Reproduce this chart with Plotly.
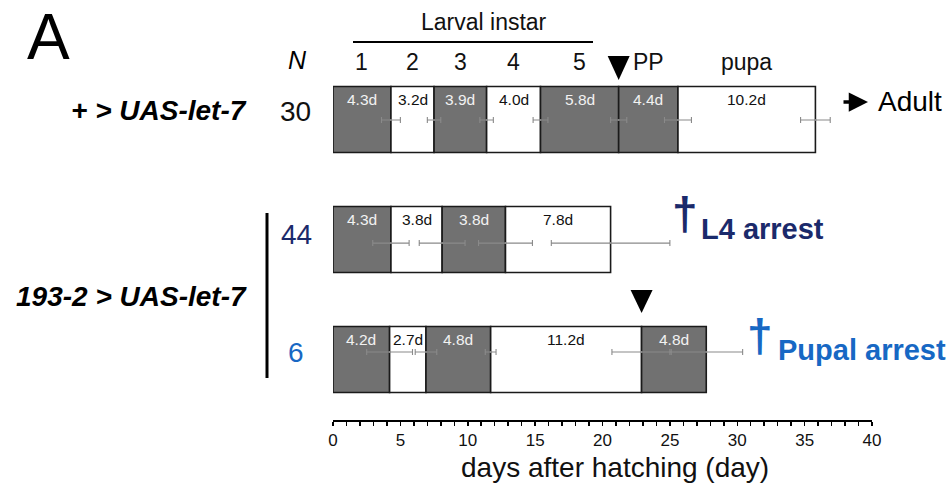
import numpy as np
import plotly.graph_objects as go

# ---------------- data ----------------
genotypes = ["+ > UAS-let-7", "193-2 > UAS-let-7"]
n_values = ["30", "44", "6"]
stage_names = ["1", "2", "3", "4", "5", "PP", "pupa"]
outcomes = ["Adult", "L4 arrest", "Pupal arrest"]

# row 0: + > UAS-let-7
wt_durations = [4.3, 3.2, 3.9, 4.0, 5.8, 4.4, 10.2]
wt_sd = [0.7, 0.5, 0.5, 0.55, 0.6, 1.0, 1.1]
wt_labels = ["4.3d", "3.2d", "3.9d", "4.0d", "5.8d", "4.4d", "10.2d"]
wt_dark = [True, False, True, False, True, True, False]

# row 1: 193-2 > UAS-let-7, L4 arrest
l4_durations = [4.3, 3.8, 4.7, 7.8]
l4_sd = [1.35, 1.7, 2.0, 4.4]
l4_labels = ["4.3d", "3.8d", "3.8d", "7.8d"]
l4_dark = [True, False, True, False]

# row 2: 193-2 > UAS-let-7, pupal arrest
pu_durations = [4.2, 2.7, 4.8, 11.2, 4.8]
pu_sd = [1.7, 0.8, 0.4, 2.2, 2.7]
pu_labels = ["4.2d", "2.7d", "4.8d", "11.2d", "4.8d"]
pu_dark = [True, False, True, False, True]

# number of segments completed at pupariation (triangle marker)
wt_pupariation_after = 5
pu_pupariation_after = 4

x_tick_values = [0, 5, 10, 15, 20, 25, 30, 35, 40]
x_title = "days after hatching (day)"

# ---------------- style / layout ----------------
FONT = "Liberation Sans, Arial, Helvetica, sans-serif"
DARK = "#717171"
WHITE = "#ffffff"
EDGE = "#1a1a1a"
EB = "#8a8a8a"
NAVY = "#1b2a6b"
BLUE = "#1768c4"

W, H = 951, 498
PL, PR, PT, PB = 333, 872, 40, 420          # plot area in window pixels
ROW0, ROWSTEP = 119.5, 120.0                # row centre pixel / spacing
PX_PER_DAY = (PR - PL) / 40.0


def px_x(px):
    return (px - PL) / (PR - PL)


def px_y(py):
    return (PB - py) / (PB - PT)


rows = [
    (wt_durations, wt_sd, wt_labels, wt_dark, 0.004),
    (l4_durations, l4_sd, l4_labels, l4_dark, 0.03),
    (pu_durations, pu_sd, pu_labels, pu_dark, -0.0625),
]

fig = go.Figure()
annotations = []

for r, (dur, sd, labels, dark, eoff) in enumerate(rows):
    dur = np.array(dur)
    ends = np.cumsum(dur)
    starts = ends - dur
    fig.add_trace(go.Bar(
        orientation="h", y=[r] * len(dur), x=dur, base=starts, width=0.55,
        marker=dict(color=[DARK if d else WHITE for d in dark],
                    line=dict(color=EDGE, width=1.6)),
        hoverinfo="skip", showlegend=False,
    ))
    fig.add_trace(go.Scatter(
        x=ends, y=[r + eoff] * len(dur), mode="markers",
        marker=dict(size=2, color=EB),
        error_x=dict(type="data", array=sd, color=EB, thickness=1.1, width=3),
        hoverinfo="skip", showlegend=False,
    ))
    for s, d, lab, dk in zip(starts, dur, labels, dark):
        annotations.append(dict(
            x=s + d / 2, y=r, xref="x", yref="y", yshift=20, showarrow=False,
            text=lab, font=dict(family=FONT, size=15.5,
                                color="#f2f2f2" if dk else "#111111"),
        ))

# triangles (pupariation)
for r, durs, after, top_px, tip_px in [
    (0, wt_durations, wt_pupariation_after, -63.5, -39.5),
    (2, pu_durations, pu_pupariation_after, -69.5, -46.5),
]:
    tx = float(np.cumsum(durs)[after - 1])
    hw = 11.0 / PX_PER_DAY
    yt = r + top_px / ROWSTEP
    yb = r + tip_px / ROWSTEP
    fig.add_trace(go.Scatter(
        x=[tx - hw, tx + hw, tx, tx - hw], y=[yt, yt, yb, yt],
        mode="lines", fill="toself", fillcolor="black",
        line=dict(width=0, color="black"), hoverinfo="skip", showlegend=False,
    ))

# header stage labels centred on the first row's segments
wt_ends = np.cumsum(wt_durations)
wt_mid = wt_ends - np.array(wt_durations) / 2
for name, m in zip(stage_names, wt_mid):
    annotations.append(dict(
        x=m, y=px_y(62), xref="x", yref="paper", showarrow=False, text=name,
        font=dict(family=FONT, size=23, color="#111"),
    ))

# other texts
annotations += [
    dict(x=px_x(48), y=px_y(37), text="A", font=dict(family=FONT, size=64, color="#000")),
    dict(x=px_x(297), y=px_y(60), text="<i>N</i>", font=dict(family=FONT, size=25, color="#000")),
    dict(x=px_x(484), y=px_y(22), text="Larval instar", font=dict(family=FONT, size=23, color="#111")),
    dict(x=px_x(249), y=px_y(110), xanchor="right", text="<b><i>" + genotypes[0].replace(">", "&gt;") + "</i></b>",
         font=dict(family=FONT, size=28, color="#000")),
    dict(x=px_x(249), y=px_y(296), xanchor="right", text="<b><i>" + genotypes[1].replace(">", "&gt;") + "</i></b>",
         font=dict(family=FONT, size=28, color="#000")),
    dict(x=px_x(295), y=px_y(111), text=n_values[0], font=dict(family=FONT, size=28, color="#111")),
    dict(x=px_x(296), y=px_y(235), text=n_values[1], font=dict(family=FONT, size=28, color=NAVY)),
    dict(x=px_x(296), y=px_y(352), text=n_values[2], font=dict(family=FONT, size=28, color=BLUE)),
    dict(x=px_x(876), y=px_y(102), xanchor="left", text=outcomes[0], font=dict(family=FONT, size=28, color="#000")),
    dict(x=px_x(685), y=px_y(214), text="<b>†</b>", font=dict(family=FONT, size=46, color=NAVY)),
    dict(x=px_x(699), y=px_y(229), xanchor="left", text="<b>" + outcomes[1] + "</b>",
         font=dict(family=FONT, size=29, color=NAVY)),
    dict(x=px_x(760), y=px_y(336), text="<b>†</b>", font=dict(family=FONT, size=46, color=BLUE)),
    dict(x=px_x(776), y=px_y(350), xanchor="left", text="<b>" + outcomes[2] + "</b>",
         font=dict(family=FONT, size=29, color=BLUE)),
    # x-axis title (sits slightly right of the axis centre in the reference)
    dict(x=px_x(615), y=px_y(467), text=x_title, font=dict(family=FONT, size=28, color="#111")),
]
for a in annotations:
    a.setdefault("xref", "paper")
    a.setdefault("yref", "paper")
    a.setdefault("showarrow", False)
    a.setdefault("xanchor", "center")
    a.setdefault("yanchor", "middle")

# arrow to "Adult"
annotations.append(dict(
    x=px_x(868), y=px_y(102), xref="paper", yref="paper", ax=-26, ay=0,
    axref="pixel", ayref="pixel", text="", showarrow=True,
    arrowhead=2, arrowsize=1.1, arrowwidth=3.5, arrowcolor="#000",
))

shapes = [
    dict(type="line", xref="paper", yref="paper", x0=px_x(267), x1=px_x(267),
         y0=px_y(213), y1=px_y(378), line=dict(color="#000", width=3)),
    dict(type="line", xref="paper", yref="paper", x0=px_x(353), x1=px_x(593),
         y0=px_y(42), y1=px_y(42), line=dict(color="#000", width=2)),
]

fig.update_layout(
    width=W, height=H,
    margin=dict(l=PL, r=W - PR, t=PT, b=H - PB, pad=0),
    paper_bgcolor="white", plot_bgcolor="white",
    barmode="overlay", showlegend=False,
    annotations=annotations, shapes=shapes,
    font=dict(family=FONT),
    xaxis=dict(
        range=[0, 40], tickvals=x_tick_values, showgrid=False, zeroline=False,
        showline=True, linecolor="#000", linewidth=2,
        ticks="outside", ticklen=4, tickwidth=1.5, tickcolor="#000",
        minor=dict(dtick=1, ticks="outside", ticklen=4, tickwidth=1.5, tickcolor="#000", showgrid=False),
        tickfont=dict(family=FONT, size=17, color="#111"),
        fixedrange=True,
    ),
    yaxis=dict(
        range=[(PB - ROW0) / ROWSTEP, (PT - ROW0) / ROWSTEP],
        visible=False, fixedrange=True,
    ),
)

fig.write_html(
    "out.html",
    config={"displayModeBar": False, "staticPlot": True},
    post_script="document.body.style.margin='0';document.body.style.overflow='hidden';",
)
